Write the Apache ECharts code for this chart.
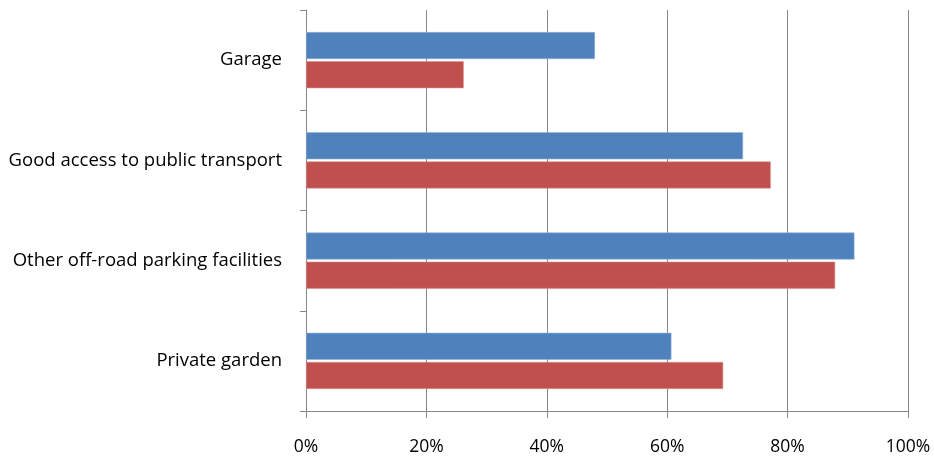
<!DOCTYPE html>
<html>
<head>
<meta charset="utf-8">
<script src="https://cdn.jsdelivr.net/npm/echarts@6/dist/echarts.min.js"></script>
<style>
html,body{margin:0;padding:0;background:#fff;}
#c{width:934px;height:459px;}
</style>
</head>
<body>
<div id="c"></div>
<script>
var categories = ["Garage", "Good access to public transport", "Other off-road parking facilities", "Private garden"];
var seriesBlue = [48.0, 72.6, 91.1, 60.7];
var seriesRed = [26.2, 77.2, 87.9, 69.3];
var xTicks = [0, 20, 40, 60, 80, 100];

var chart = echarts.init(document.getElementById('c'), null, {renderer: 'canvas'});
var gray = '#878787';
var font = '"Open Sans", "Noto Sans", sans-serif';
chart.setOption({
  animation: false,
  backgroundColor: '#ffffff',
  grid: {left: 306, right: 26, top: 10, bottom: 48, containLabel: false},
  xAxis: {
    type: 'value', min: xTicks[0], max: xTicks[xTicks.length - 1], interval: 20,
    axisLine: {show: true, lineStyle: {color: gray, width: 1}},
    axisTick: {show: true, length: 7, lineStyle: {color: gray, width: 1}},
    splitLine: {show: true, lineStyle: {color: gray, width: 1}},
    axisLabel: {formatter: '{value}%', color: '#000', fontSize: 17.5, fontFamily: font, margin: 27}
  },
  yAxis: {
    type: 'category', data: categories, inverse: true,
    axisLine: {show: true, lineStyle: {color: gray, width: 1}},
    axisTick: {show: true, length: 6, lineStyle: {color: gray, width: 1}},
    axisLabel: {color: '#000', fontSize: 18.5, fontFamily: font, margin: 24, padding: [4, 0, 0, 0]}
  },
  series: [
    {type: 'bar', data: seriesBlue, barWidth: 27, barGap: '8%',
     itemStyle: {color: '#4F81BD', borderColor: '#8fb0d8', borderWidth: 0.6}},
    {type: 'bar', data: seriesRed, barWidth: 27, barGap: '8%',
     itemStyle: {color: '#C0504D', borderColor: '#d88f8d', borderWidth: 0.6}}
  ]
});
</script>
</body>
</html>
